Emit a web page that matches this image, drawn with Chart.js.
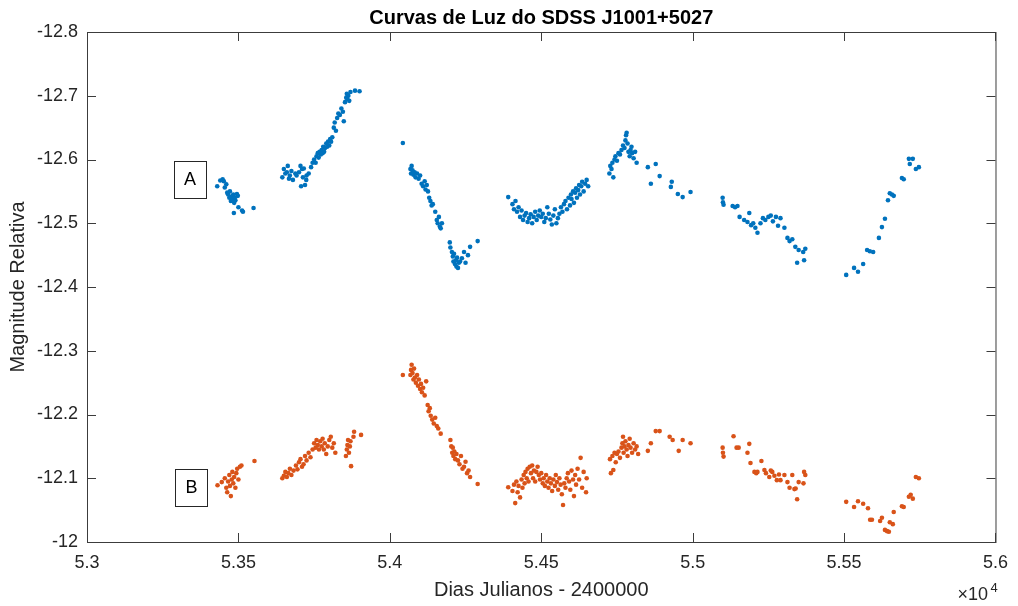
<!DOCTYPE html>
<html>
<head>
<meta charset="utf-8">
<script src="https://cdn.jsdelivr.net/npm/chart.js@4.4.1/dist/chart.umd.min.js"></script>
<style>
  body { margin: 0; background: #fff; }
  #wrap { width: 1018px; height: 606px; }
</style>
</head>
<body>
<div id="wrap"><canvas id="grafico"></canvas></div>
<script>
// Curva A: [dia juliano, magnitude]
const serieA = [
  [53430,-12.558],[53440,-12.567],[53448,-12.569],[53452,-12.566],[53455,-12.556],[53460,-12.561],[53463,-12.548],[53466,-12.545],
  [53470,-12.540],[53472,-12.550],[53475,-12.535],[53478,-12.542],[53480,-12.538],[53483,-12.545],[53486,-12.532],[53488,-12.540],
  [53490,-12.536],[53495,-12.546],[53498,-12.543],[53500,-12.525],[53485,-12.516],[53512,-12.520],[53515,-12.518],[53550,-12.524],
  [53645,-12.572],[53650,-12.585],[53655,-12.578],[53660,-12.580],[53663,-12.590],[53667,-12.570],[53670,-12.575],[53675,-12.582],
  [53680,-12.568],[53688,-12.578],[53692,-12.575],[53700,-12.580],[53705,-12.590],[53710,-12.585],[53713,-12.572],[53716,-12.586],
  [53720,-12.560],[53725,-12.575],[53732,-12.578],[53740,-12.588],[53745,-12.595],[53707,-12.558],[53724,-12.568],
  [53750,-12.600],[53755,-12.595],[53758,-12.605],[53762,-12.610],[53765,-12.603],[53768,-12.612],[53772,-12.608],[53775,-12.615],
  [53778,-12.610],[53780,-12.620],[53783,-12.612],[53786,-12.618],[53790,-12.625],[53793,-12.620],[53796,-12.628],[53800,-12.622],
  [53803,-12.632],[53806,-12.628],[53810,-12.635],[53815,-12.650],[53818,-12.658],[53822,-12.645],[53826,-12.665],[53830,-12.672],
  [53835,-12.670],[53840,-12.680],[53845,-12.675],[53848,-12.660],[53852,-12.690],[53856,-12.697],[53858,-12.703],[53860,-12.695],
  [53863,-12.700],[53866,-12.692],[53870,-12.706],[53885,-12.708],[53900,-12.707],
  [54043,-12.626],[54068,-12.585],[54070,-12.578],[54072,-12.590],[54075,-12.583],[54078,-12.576],[54082,-12.580],[54085,-12.572],
  [54090,-12.578],[54095,-12.570],[54100,-12.575],[54105,-12.562],[54110,-12.558],[54115,-12.566],[54118,-12.553],[54122,-12.560],
  [54126,-12.550],[54130,-12.540],[54134,-12.535],[54138,-12.528],[54142,-12.530],[54150,-12.518],[54155,-12.505],[54158,-12.500],
  [54162,-12.510],[54165,-12.495],[54168,-12.492],[54172,-12.500],[54198,-12.470],[54200,-12.462],[54205,-12.455],[54208,-12.448],
  [54210,-12.440],[54212,-12.452],[54215,-12.436],[54218,-12.442],[54220,-12.432],[54222,-12.446],[54225,-12.430],[54228,-12.438],
  [54232,-12.440],[54238,-12.445],[54245,-12.455],[54250,-12.438],[54258,-12.450],[54265,-12.463],[54290,-12.472],
  [54391,-12.541],[54405,-12.530],[54410,-12.522],[54415,-12.535],[54420,-12.518],[54425,-12.525],[54430,-12.510],[54435,-12.520],
  [54440,-12.505],[54445,-12.512],[54450,-12.516],[54455,-12.502],[54460,-12.508],[54465,-12.514],[54470,-12.500],[54475,-12.510],
  [54480,-12.518],[54485,-12.505],[54490,-12.512],[54495,-12.520],[54500,-12.510],[54505,-12.515],[54510,-12.502],[54515,-12.508],
  [54520,-12.525],[54525,-12.515],[54530,-12.506],[54535,-12.498],[54540,-12.512],[54545,-12.522],[54550,-12.500],[54555,-12.508],
  [54560,-12.515],[54565,-12.525],[54570,-12.518],[54575,-12.530],[54580,-12.535],[54585,-12.522],[54590,-12.540],[54595,-12.528],
  [54598,-12.545],[54600,-12.538],[54605,-12.550],[54608,-12.532],[54612,-12.548],[54615,-12.555],[54618,-12.540],[54622,-12.552],
  [54625,-12.560],[54628,-12.545],[54632,-12.558],[54635,-12.565],[54640,-12.550],[54645,-12.562],[54650,-12.568],[54655,-12.558],
  [54725,-12.578],[54728,-12.590],[54732,-12.585],[54735,-12.595],[54738,-12.572],[54742,-12.600],[54745,-12.605],[54750,-12.598],
  [54755,-12.610],[54760,-12.608],[54765,-12.615],[54770,-12.622],[54775,-12.618],[54778,-12.630],[54780,-12.638],[54782,-12.642],
  [54785,-12.625],[54788,-12.612],[54792,-12.605],[54795,-12.615],[54798,-12.620],[54800,-12.610],[54805,-12.602],[54810,-12.612],
  [54815,-12.595],[54852,-12.588],[54878,-12.593],[54862,-12.562],[54891,-12.574],[54931,-12.565],[54928,-12.557],[54951,-12.546],
  [54967,-12.541],[54993,-12.549],
  [55099,-12.540],[55100,-12.533],[55102,-12.529],[55132,-12.527],[55140,-12.525],[55148,-12.527],[55155,-12.510],[55170,-12.505],
  [55181,-12.502],[55187,-12.516],[55193,-12.497],[55200,-12.500],[55207,-12.493],[55214,-12.485],[55224,-12.500],[55232,-12.508],
  [55240,-12.505],[55250,-12.510],[55258,-12.512],[55265,-12.503],[55275,-12.510],[55282,-12.496],[55290,-12.508],[55303,-12.493],
  [55313,-12.477],[55320,-12.472],[55329,-12.475],[55339,-12.463],[55345,-12.438],[55350,-12.458],[55365,-12.455],[55368,-12.442],
  [55372,-12.460],
  [55507,-12.419],[55533,-12.430],[55546,-12.424],[55563,-12.436],[55576,-12.458],[55585,-12.456],[55596,-12.455],[55615,-12.477],
  [55625,-12.494],[55635,-12.507],[55645,-12.536],[55651,-12.547],[55658,-12.545],[55664,-12.543],[55691,-12.571],[55697,-12.569],
  [55714,-12.601],[55727,-12.601],[55717,-12.593],[55737,-12.585],[55747,-12.588]
];

// Curva B: [dia juliano, magnitude]
const serieB = [
  [53431,-12.089],[53445,-12.094],[53455,-12.100],[53460,-12.085],[53463,-12.078],[53466,-12.095],[53470,-12.105],[53472,-12.088],
  [53475,-12.072],[53478,-12.098],[53480,-12.110],[53483,-12.092],[53486,-12.102],[53490,-12.085],[53493,-12.108],[53496,-12.115],
  [53500,-12.098],[53505,-12.118],[53510,-12.120],[53553,-12.127],
  [53645,-12.100],[53650,-12.104],[53655,-12.110],[53660,-12.102],[53665,-12.108],[53670,-12.115],[53675,-12.105],[53682,-12.112],
  [53690,-12.120],[53695,-12.114],[53700,-12.125],[53705,-12.130],[53710,-12.118],[53715,-12.122],[53720,-12.135],[53725,-12.128],
  [53732,-12.140],[53738,-12.133],[53745,-12.145],[53750,-12.155],[53755,-12.148],[53758,-12.160],[53762,-12.152],[53766,-12.145],
  [53770,-12.158],[53775,-12.150],[53778,-12.162],[53782,-12.145],[53785,-12.155],[53790,-12.138],[53795,-12.150],[53800,-12.160],
  [53805,-12.165],[53810,-12.148],[53815,-12.155],[53820,-12.140],[53855,-12.135],[53858,-12.145],[53860,-12.152],[53862,-12.160],
  [53865,-12.140],[53868,-12.150],[53870,-12.158],[53872,-12.119],[53880,-12.165],[53882,-12.173],[53905,-12.168],
  [54043,-12.262],[54068,-12.262],[54070,-12.270],[54072,-12.278],[54075,-12.265],[54078,-12.255],[54080,-12.272],[54083,-12.258],
  [54086,-12.250],[54090,-12.262],[54093,-12.245],[54096,-12.255],[54100,-12.240],[54103,-12.248],[54106,-12.235],[54110,-12.242],
  [54115,-12.230],[54120,-12.252],[54125,-12.215],[54128,-12.205],[54132,-12.210],[54135,-12.198],[54140,-12.192],[54145,-12.186],
  [54150,-12.195],[54155,-12.182],[54160,-12.178],[54168,-12.170],[54200,-12.160],[54203,-12.150],[54206,-12.140],[54208,-12.148],
  [54210,-12.135],[54213,-12.142],[54216,-12.130],[54220,-12.138],[54225,-12.128],[54230,-12.122],[54235,-12.135],[54240,-12.115],
  [54245,-12.118],[54250,-12.126],[54255,-12.108],[54260,-12.112],[54265,-12.102],[54290,-12.091],
  [54391,-12.086],[54405,-12.080],[54410,-12.090],[54414,-12.061],[54418,-12.095],[54422,-12.078],[54425,-12.088],[54430,-12.070],
  [54435,-12.098],[54438,-12.085],[54442,-12.105],[54445,-12.092],[54448,-12.110],[54452,-12.100],[54455,-12.115],[54458,-12.095],
  [54462,-12.118],[54466,-12.108],[54470,-12.120],[54473,-12.100],[54476,-12.112],[54480,-12.095],[54484,-12.110],[54488,-12.118],
  [54492,-12.105],[54496,-12.098],[54500,-12.108],[54505,-12.092],[54508,-12.100],[54512,-12.088],[54516,-12.105],[54520,-12.095],
  [54524,-12.085],[54528,-12.100],[54532,-12.092],[54536,-12.080],[54540,-12.098],[54545,-12.088],[54548,-12.105],[54552,-12.094],
  [54556,-12.082],[54560,-12.100],[54564,-12.090],[54568,-12.075],[54572,-12.058],[54576,-12.092],[54580,-12.085],[54584,-12.100],
  [54588,-12.108],[54592,-12.095],[54596,-12.082],[54600,-12.112],[54605,-12.098],[54608,-12.072],[54612,-12.105],[54615,-12.090],
  [54620,-12.115],[54625,-12.098],[54630,-12.132],[54635,-12.085],[54640,-12.110],[54648,-12.078],[54650,-12.100],
  [54727,-12.130],[54730,-12.108],[54735,-12.135],[54738,-12.113],[54742,-12.140],[54746,-12.125],[54750,-12.138],[54755,-12.142],
  [54760,-12.132],[54765,-12.148],[54768,-12.155],[54770,-12.165],[54772,-12.140],[54775,-12.150],[54778,-12.158],[54782,-12.145],
  [54785,-12.135],[54788,-12.152],[54792,-12.162],[54795,-12.148],[54800,-12.140],[54805,-12.155],[54810,-12.145],[54815,-12.150],
  [54820,-12.138],[54852,-12.143],[54862,-12.155],[54878,-12.174],[54891,-12.174],[54924,-12.165],[54934,-12.160],[54954,-12.143],
  [54967,-12.160],[54993,-12.155],
  [55099,-12.148],[55100,-12.140],[55102,-12.134],[55135,-12.166],[55145,-12.148],[55152,-12.148],[55181,-12.140],[55187,-12.154],
  [55191,-12.124],[55204,-12.110],[55210,-12.108],[55214,-12.110],[55227,-12.127],[55237,-12.113],[55242,-12.108],[55253,-12.102],
  [55258,-12.112],[55263,-12.110],[55270,-12.104],[55278,-12.097],[55285,-12.106],[55290,-12.097],[55303,-12.105],[55313,-12.094],
  [55320,-12.085],[55329,-12.105],[55336,-12.083],[55340,-12.084],[55345,-12.067],[55350,-12.094],[55368,-12.110],[55372,-12.105],
  [55366,-12.092],
  [55507,-12.063],[55533,-12.055],[55546,-12.064],[55563,-12.060],[55579,-12.053],[55586,-12.035],[55592,-12.035],[55619,-12.033],
  [55625,-12.038],[55635,-12.019],[55642,-12.017],[55648,-12.016],[55651,-12.031],[55661,-12.028],[55664,-12.047],[55691,-12.056],
  [55697,-12.055],[55714,-12.071],[55720,-12.074],[55727,-12.068],[55737,-12.102],[55747,-12.100]
];

// Marcas dos eixos
const xTicks = [53000, 53500, 54000, 54500, 55000, 55500, 56000];
const xTickLabels = ['5.3', '5.35', '5.4', '5.45', '5.5', '5.55', '5.6'];
const yTicks = [-12.8, -12.7, -12.6, -12.5, -12.4, -12.3, -12.2, -12.1, -12];
const yTickLabels = ['-12.8', '-12.7', '-12.6', '-12.5', '-12.4', '-12.3', '-12.2', '-12.1', '-12'];

// Rótulos das curvas (posição em coordenadas dos dados)
const rotulos = [
  { texto: 'A', x: 53340, y: -12.569 },
  { texto: 'B', x: 53345, y: -12.086 }
];

const corTexto = '#262626';
const fonte = 'Liberation Sans, Arial, Helvetica, sans-serif';

// Caixa do eixo estilo MATLAB, marcas para dentro, rótulos A/B e fator x10^4
const caixaPlugin = {
  id: 'caixa',
  afterDraw(chart) {
    const { ctx, chartArea: a, scales } = chart;
    const tam = 9;
    ctx.save();
    ctx.strokeStyle = '#3c3c3c';
    ctx.lineWidth = 1;
    ctx.strokeRect(a.left + 0.5, a.top + 0.5, a.right - a.left, a.bottom - a.top);
    ctx.beginPath();
    xTicks.forEach(v => {
      const px = Math.round(scales.x.getPixelForValue(v)) + 0.5;
      ctx.moveTo(px, a.bottom); ctx.lineTo(px, a.bottom - tam);
      ctx.moveTo(px, a.top); ctx.lineTo(px, a.top + tam);
    });
    yTicks.forEach(v => {
      const py = Math.round(scales.y.getPixelForValue(v)) + 0.5;
      ctx.moveTo(a.left, py); ctx.lineTo(a.left + tam, py);
      ctx.moveTo(a.right, py); ctx.lineTo(a.right - tam, py);
    });
    ctx.stroke();

    // caixas A e B
    ctx.font = '18px ' + fonte;
    ctx.textAlign = 'center';
    ctx.textBaseline = 'middle';
    rotulos.forEach(r => {
      const cx = scales.x.getPixelForValue(r.x);
      const cy = scales.y.getPixelForValue(r.y);
      ctx.fillStyle = '#fff';
      ctx.fillRect(cx - 16, cy - 18, 32, 37);
      ctx.strokeStyle = '#262626';
      ctx.strokeRect(Math.round(cx - 16) + 0.5, Math.round(cy - 18) + 0.5, 32, 37);
      ctx.fillStyle = '#000';
      ctx.fillText(r.texto, cx, cy + 1);
    });

    // fator de escala do eixo x
    ctx.fillStyle = corTexto;
    ctx.textAlign = 'left';
    ctx.textBaseline = 'alphabetic';
    ctx.font = '18px ' + fonte;
    ctx.fillText('\u00d710', a.right - 38, a.bottom + 58);
    ctx.font = '13px ' + fonte;
    ctx.fillText('4', a.right - 5, a.bottom + 50);
    ctx.restore();
  }
};

const ctx = document.getElementById('grafico');

new Chart(ctx, {
  type: 'scatter',
  data: {
    datasets: [
      {
        label: 'A',
        data: serieA.map(p => ({ x: p[0], y: p[1] })),
        backgroundColor: '#0072BD',
        borderWidth: 0,
        pointRadius: 2.3
      },
      {
        label: 'B',
        data: serieB.map(p => ({ x: p[0], y: p[1] })),
        backgroundColor: '#D95319',
        borderWidth: 0,
        pointRadius: 2.3
      }
    ]
  },
  options: {
    responsive: true,
    maintainAspectRatio: false,
    animation: false,
    layout: { padding: { left: 0, right: 19, top: 0, bottom: 0 } },
    plugins: {
      legend: { display: false },
      tooltip: { enabled: false },
      title: {
        display: true,
        fullSize: false,
        text: 'Curvas de Luz do SDSS J1001+5027',
        color: '#000',
        font: { family: fonte, size: 20, weight: 'bold', lineHeight: 1.2 },
        padding: { top: 6, bottom: 2 }
      }
    },
    scales: {
      x: {
        type: 'linear',
        min: 53000,
        max: 56000,
        grid: { display: false, drawTicks: false },
        border: { display: false },
        afterBuildTicks: s => { s.ticks = xTicks.map(v => ({ value: v })); },
        afterFit: s => { s.height = 64; },
        ticks: {
          color: corTexto,
          padding: 10,
          maxRotation: 0,
          font: { family: fonte, size: 18 },
          callback: (v, i) => xTickLabels[i]
        },
        title: {
          display: true,
          text: 'Dias Julianos - 2400000',
          color: corTexto,
          font: { family: fonte, size: 20 },
          padding: { top: 0, bottom: 4 }
        }
      },
      y: {
        type: 'linear',
        reverse: true,
        min: -12.8,
        max: -12,
        grid: { display: false, drawTicks: false },
        border: { display: false },
        afterBuildTicks: s => { s.ticks = yTicks.map(v => ({ value: v })); },
        afterFit: s => { s.width = 87; },
        ticks: {
          color: corTexto,
          padding: 9,
          font: { family: fonte, size: 18 },
          callback: (v, i) => yTickLabels[i]
        },
        title: {
          display: true,
          text: 'Magnitude Relativa',
          color: corTexto,
          font: { family: fonte, size: 20 },
          padding: { top: 6, bottom: 0 }
        }
      }
    }
  },
  plugins: [caixaPlugin]
});
</script>
</body>
</html>
